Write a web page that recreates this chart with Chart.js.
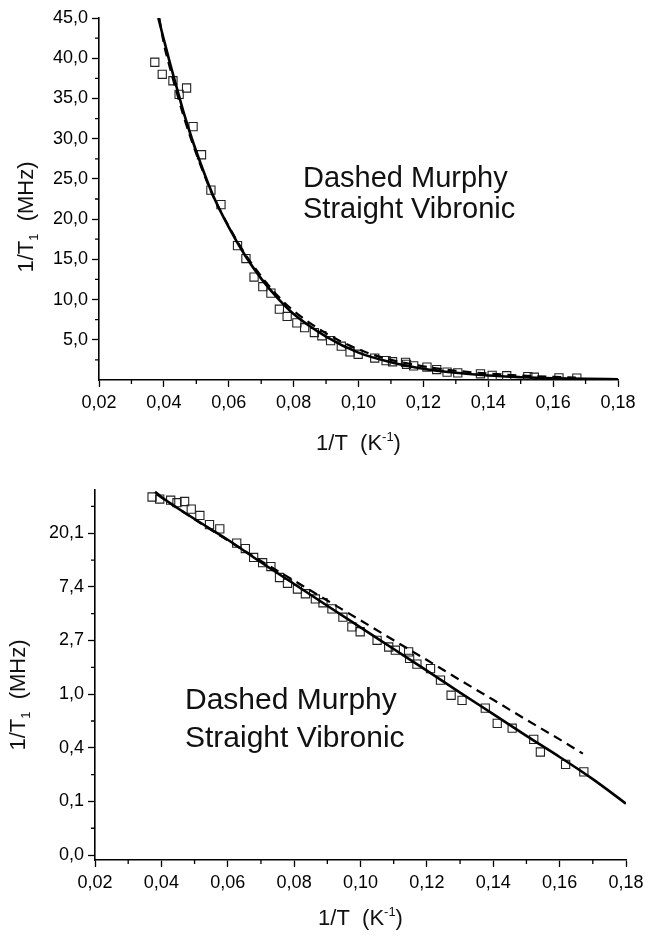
<!DOCTYPE html>
<html>
<head>
<meta charset="utf-8">
<script src="https://cdn.jsdelivr.net/npm/chart.js@4.4.1/dist/chart.umd.min.js"></script>
<style>
  body { margin: 0; background: #fff; }
  canvas { position: absolute; left: 0; }
</style>
</head>
<body>
<canvas id="linChart" width="649" height="470" style="top:0"></canvas>
<canvas id="logChart" width="649" height="470" style="top:470px"></canvas>
<script>
// measured points: 1/T (K^-1) and 1/T1 (MHz)
var invT = [0.0372, 0.0395, 0.0428, 0.0447, 0.0470, 0.0490, 0.0516, 0.0545, 0.0576, 0.0627,
            0.0653, 0.0678, 0.0705, 0.0730, 0.0756, 0.0780, 0.0810, 0.0834, 0.0864, 0.0887,
            0.0914, 0.0947, 0.0974, 0.0999, 0.1050, 0.1085, 0.1105, 0.1145, 0.1148, 0.1170,
            0.1211, 0.1241, 0.1273, 0.1306, 0.1376, 0.1412, 0.1457, 0.1522, 0.1542, 0.1618, 0.1673];
var rate = [39.5, 38.0, 37.2, 35.5, 36.3, 31.5, 28.0, 23.6, 21.8, 16.7,
            15.1, 12.8, 11.6, 10.8, 8.8, 7.9, 7.1, 6.5, 5.9, 5.5,
            4.9, 4.2, 3.5, 3.2, 2.73, 2.41, 2.27, 2.20, 1.95, 1.75,
            1.61, 1.30, 0.98, 0.89, 0.77, 0.58, 0.53, 0.43, 0.34, 0.27, 0.235];

// curves
var linSolidX = [0.0383, 0.040, 0.042, 0.044, 0.046, 0.048, 0.050, 0.055, 0.060, 0.065, 0.070, 0.075,
                 0.080, 0.090, 0.100, 0.110, 0.120, 0.130, 0.140, 0.150, 0.160, 0.170, 0.180];
var linSolidY = [45.0, 42.3, 39.2, 36.3, 33.4, 30.8, 28.4, 23.1, 19.0, 15.5, 12.6, 10.2,
                 8.2, 5.4, 3.4, 2.2, 1.4, 0.9, 0.55, 0.35, 0.22, 0.14, 0.09];
var linDashX = [0.0386, 0.040, 0.042, 0.044, 0.046, 0.048, 0.050, 0.055, 0.060, 0.065, 0.070, 0.075,
                0.080, 0.090, 0.100, 0.110, 0.120, 0.130, 0.140, 0.150, 0.160, 0.167];
var linDashY = [45.0, 41.8, 38.6, 35.7, 32.9, 30.4, 28.1, 23.0, 19.1, 15.7, 12.9, 10.5,
                8.6, 5.8, 3.8, 2.5, 1.7, 1.15, 0.8, 0.55, 0.38, 0.3];

// curves
var logSolidX = [0.0381, 0.040, 0.050, 0.060, 0.070, 0.080, 0.090, 0.100, 0.110, 0.120,
                 0.130, 0.140, 0.150, 0.160, 0.170, 0.180];
var logSolidY = [43.5, 39.5, 26.2, 17.8, 11.7, 7.8, 5.2, 3.47, 2.32, 1.55,
                 1.03, 0.69, 0.46, 0.31, 0.205, 0.13];
var logDashX = [0.0386, 0.050, 0.060, 0.070, 0.080, 0.090, 0.100, 0.110, 0.120, 0.130,
                0.140, 0.150, 0.160, 0.167];
var logDashY = [41.5, 26.0, 17.6, 12.0, 8.3, 5.73, 3.96, 2.73, 1.89, 1.30,
                0.90, 0.62, 0.43, 0.33];

// axis ticks
var xTicks = [0.02, 0.04, 0.06, 0.08, 0.10, 0.12, 0.14, 0.16, 0.18];
var xMinor = [0.03, 0.05, 0.07, 0.09, 0.11, 0.13, 0.15, 0.17];
var linTicks = [5, 10, 15, 20, 25, 30, 35, 40, 45];
var linMinor = [2.5, 7.5, 12.5, 17.5, 22.5, 27.5, 32.5, 37.5, 42.5];
var logTicks = [0.0498, 0.1353, 0.3679, 1.0, 2.7183, 7.3891, 20.0855];
var logMinor = [0.0821, 0.2231, 0.6065, 1.6487, 4.4817, 12.1825, 33.1155];

var FONT = '"Liberation Sans", Arial, sans-serif';

function pts(xs, ys) {
  return xs.map(function (x, i) { return { x: x, y: ys[i] }; });
}
function comma(v, d) { return v.toFixed(d).replace('.', ','); }

// draws a run of text pieces [text, size, dy] centred on x
function drawParts(ctx, parts, x, y) {
  var total = 0;
  parts.forEach(function (p) { ctx.font = p[1] + 'px ' + FONT; total += ctx.measureText(p[0]).width; });
  var cx = x - total / 2;
  parts.forEach(function (p) {
    ctx.font = p[1] + 'px ' + FONT;
    ctx.fillText(p[0], cx, y + p[2]);
    cx += ctx.measureText(p[0]).width;
  });
}

var extras = {
  id: 'extras',
  afterDraw: function (chart, args, o) {
    var ctx = chart.ctx, area = chart.chartArea;
    var xs = chart.scales.x, ys = chart.scales.y;
    ctx.save();
    // minor ticks
    ctx.strokeStyle = '#000';
    ctx.lineWidth = 1.3;
    ctx.beginPath();
    o.xMinor.forEach(function (v) {
      var px = xs.getPixelForValue(v);
      ctx.moveTo(px, area.bottom); ctx.lineTo(px, area.bottom + 4);
    });
    o.yMinor.forEach(function (v) {
      var py = ys.getPixelForValue(v);
      ctx.moveTo(area.left - 4, py); ctx.lineTo(area.left, py);
    });
    ctx.stroke();

    ctx.fillStyle = '#111';
    ctx.textBaseline = 'alphabetic';
    // x title
    drawParts(ctx, [['1/T  (K', 22, 0], ['-1', 13, -9], [')', 22, 0]], (area.left + area.right) / 2, o.xTitleY);
    // note
    ctx.font = o.noteSize + 'px ' + FONT;
    ctx.textAlign = 'left';
    ctx.fillText('Dashed Murphy', o.noteX, o.noteY);
    ctx.fillText('Straight Vibronic', o.noteX, o.noteY + o.noteGap);
    // y title
    ctx.translate(o.yTitleX, o.yTitleY);
    ctx.rotate(-Math.PI / 2);
    drawParts(ctx, [['1/T', 22, 0], ['1', 13, 5], ['  (MHz)', 22, 0]], 0, 0);
    ctx.restore();
  }
};

function makeChart(id, cfg) {
  return new Chart(document.getElementById(id), {
    type: 'scatter',
    data: {
      datasets: [
        { data: pts(cfg.solidX, cfg.solidY), showLine: true, borderColor: '#000', borderWidth: 2.6,
          pointRadius: 0, cubicInterpolationMode: 'monotone', fill: false },
        { data: pts(cfg.dashX, cfg.dashY), showLine: true, borderColor: '#000', borderWidth: 2.2,
          borderDash: [9, 6], pointRadius: 0, cubicInterpolationMode: 'monotone', fill: false },
        { data: pts(invT, rate), showLine: false, pointStyle: 'rect', pointRadius: 5.8,
          borderColor: '#222', borderWidth: 1.1, backgroundColor: 'rgba(0,0,0,0)' }
      ]
    },
    options: {
      responsive: false,
      animation: false,
      events: [],
      layout: { padding: cfg.padding },
      plugins: {
        legend: { display: false },
        tooltip: { enabled: false },
        extras: cfg.extras
      },
      scales: {
        x: {
          type: 'linear', min: 0.02, max: 0.18,
          afterBuildTicks: function (s) { s.ticks = xTicks.map(function (v) { return { value: v }; }); },
          afterFit: function (s) { s.height = cfg.xHeight; },
          ticks: { color: '#000', font: { family: FONT, size: 18 }, padding: 5, autoSkip: false, maxRotation: 0,
                   callback: function (v) { return comma(v, 2); } },
          grid: { drawOnChartArea: false, drawTicks: true, tickLength: 7, tickColor: '#000', tickWidth: 1.3 },
          border: { color: '#000', width: 1.6 }
        },
        y: {
          type: cfg.yType, min: cfg.yMin, max: cfg.yMax,
          afterBuildTicks: function (s) { s.ticks = cfg.yTicks.map(function (v) { return { value: v }; }); },
          afterFit: function (s) { s.width = cfg.yWidth; },
          ticks: { color: '#000', font: { family: FONT, size: 18 }, padding: 4, autoSkip: false,
                   callback: function (v) { return comma(v, 1); } },
          grid: { drawOnChartArea: false, drawTicks: true, tickLength: 7, tickColor: '#000', tickWidth: 1.3 },
          border: { color: '#000', width: 1.6 }
        }
      }
    },
    plugins: [extras]
  });
}

makeChart('linChart', {
  solidX: linSolidX, solidY: linSolidY, dashX: linDashX, dashY: linDashY,
  yType: 'linear', yMin: 0, yMax: 45, yTicks: linTicks,
  padding: { top: 18, right: 31, left: 0, bottom: 0 },
  xHeight: 90, yWidth: 99,
  extras: { xMinor: xMinor, yMinor: linMinor, xTitleY: 450, yTitleX: 33, yTitleY: 217,
            noteX: 303, noteY: 187, noteGap: 31, noteSize: 29 }
});

makeChart('logChart', {
  solidX: logSolidX, solidY: logSolidY, dashX: logDashX, dashY: logDashY,
  yType: 'logarithmic', yMin: 0.0454, yMax: 45, yTicks: logTicks,
  padding: { top: 20, right: 23, left: 0, bottom: 0 },
  xHeight: 80, yWidth: 95,
  extras: { xMinor: xMinor, yMinor: logMinor, xTitleY: 455, yTitleX: 25, yTitleY: 225,
            noteX: 185, noteY: 239, noteGap: 38, noteSize: 30 }
});
</script>
</body>
</html>
